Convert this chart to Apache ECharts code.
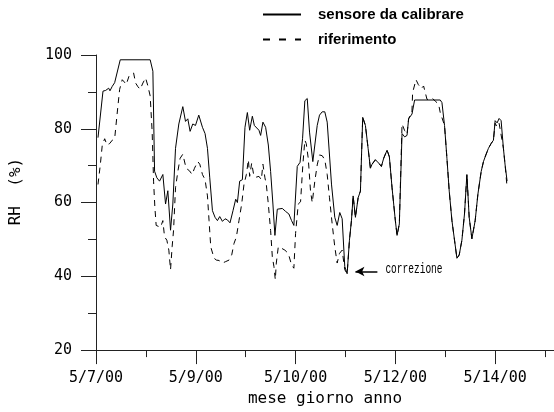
<!DOCTYPE html>
<html>
<head>
<meta charset="utf-8">
<script src="https://cdn.jsdelivr.net/npm/echarts@6/dist/echarts.min.js"></script>
<style>
html,body{margin:0;padding:0;background:#fff;}
#chart{width:554px;height:412px;}
</style>
</head>
<body>
<div id="chart"></div>
<script>
// x positions are in axis units (one unit per labelled tick)
var tickLabels = ['5/7/00', '5/9/00', '5/10/00', '5/12/00', '5/14/00'];
var seriesNames = ['sensore da calibrare', 'riferimento'];

var tSensore = [0.02,0.07,0.097,0.127,0.14,0.163,0.187,0.243,0.543,0.57,0.587,0.61,0.637,0.67,0.697,0.72,0.747,0.77,0.797,0.83,0.87,0.897,0.92,0.943,0.97,0.997,1.03,1.067,1.093,1.117,1.14,1.167,1.193,1.217,1.24,1.267,1.293,1.317,1.343,1.373,1.4,1.417,1.44,1.467,1.493,1.517,1.54,1.567,1.587,1.607,1.633,1.65,1.673,1.7,1.727,1.75,1.773,1.793,1.817,1.833,1.867,1.9,1.933,1.96,1.983,2.0,2.017,2.045,2.07,2.093,2.117,2.14,2.173,2.193,2.217,2.24,2.267,2.293,2.317,2.333,2.36,2.393,2.417,2.443,2.467,2.493,2.517,2.54,2.56,2.577,2.6,2.627,2.65,2.673,2.7,2.727,2.75,2.767,2.8,2.833,2.86,2.883,2.917,2.94,2.967,3.0,3.017,3.04,3.067,3.093,3.117,3.133,3.15,3.167,3.193,3.45,3.467,3.493,3.517,3.54,3.567,3.593,3.617,3.64,3.667,3.693,3.717,3.74,3.767,3.8,3.827,3.86,3.883,3.907,3.933,3.96,3.983,4.0,4.02,4.04,4.06,4.083,4.1,4.12];
var sensore = [77.6,90.2,90.4,91,90.3,91.5,92.5,98.7,98.7,95.6,68.5,66.7,65.8,67.6,59.6,63.2,52.5,59.6,74.7,81.3,86,82,82.7,79.3,81.3,80.9,83.7,80.4,78.7,74.7,66.7,57.8,56,55.1,56.2,54.9,55.6,55.3,54.5,57.8,60.9,60,65.8,66.2,80.4,84.4,79.6,83.4,80.9,80.7,79.6,78.2,81.8,80.4,75.6,68.4,59.6,51.1,58.2,57.8,58.4,57.6,56.9,55.1,53.8,54.2,69.8,70.9,77.3,87.6,88.2,79.1,71.1,75.6,80.9,83.7,84.6,84.6,81.8,75.6,65,56,53.8,57.3,55.6,42.7,40.7,49.8,55.1,61.8,56,61.3,63.1,83.1,80.9,74.7,69.3,70.4,71.6,70.7,69.8,72,74.2,72.4,64,55.1,51.1,54.2,78.7,77.8,78.2,82.7,83,84,87.8,87.8,87.1,80.9,72,63.1,55.1,49.8,44.9,45.8,49.8,56.9,67.6,56,50.2,55.1,62.2,68.4,71.1,72.9,74.7,76,76.9,82.2,81.6,82.8,82.2,74.7,70.2,65.8];

var tRiferimento = [0.02,0.043,0.063,0.087,0.11,0.137,0.163,0.187,0.21,0.237,0.263,0.283,0.303,0.33,0.353,0.377,0.397,0.42,0.443,0.47,0.497,0.52,0.543,0.563,0.577,0.59,0.603,0.62,0.647,0.67,0.687,0.71,0.73,0.747,0.763,0.777,0.797,0.82,0.843,0.87,0.903,0.937,0.963,0.987,1.02,1.04,1.067,1.093,1.117,1.133,1.15,1.183,1.207,1.233,1.267,1.3,1.333,1.36,1.383,1.407,1.433,1.46,1.483,1.507,1.527,1.54,1.56,1.583,1.607,1.633,1.657,1.673,1.693,1.707,1.727,1.75,1.767,1.783,1.797,1.807,1.827,1.86,1.893,1.927,1.96,1.983,2.0,2.027,2.05,2.073,2.093,2.107,2.127,2.15,2.167,2.193,2.217,2.24,2.267,2.293,2.317,2.34,2.367,2.393,2.417,2.44,2.467,2.493,2.517,2.54,2.56,2.577,2.6,2.627,2.65,2.673,2.7,2.727,2.75,2.767,2.8,2.833,2.86,2.883,2.917,2.94,2.967,3.0,3.017,3.04,3.067,3.093,3.117,3.133,3.167,3.173,3.207,3.23,3.26,3.283,3.317,3.34,3.373,3.4,3.433,3.45,3.493,3.517,3.54,3.567,3.593,3.617,3.64,3.667,3.693,3.717,3.74,3.767,3.8,3.827,3.86,3.883,3.907,3.933,3.96,3.983,4.0,4.02,4.04,4.06,4.083,4.1,4.12];
var riferimento = [64.9,70.2,75.6,77.3,75.6,76,76.9,77.3,83.6,90.7,93.3,92.7,92,94.2,94.9,95.1,92.4,91.4,90.7,92.4,93.8,91.6,88.9,79.1,65.8,58.7,53.8,53.5,53.3,55.1,50.7,49.8,47.1,41.8,48,52.4,64,68.4,72,73.1,69.3,68.6,67.6,69.3,71.1,70.4,67.6,66.2,61.8,55.1,48,44.9,44.4,44.3,43.6,44,44.4,45.8,48.9,50.7,55.1,59.6,64.9,67.6,71.6,67.1,70.7,67.1,66.9,67.1,66.2,70.4,66.7,64.9,59.6,52.4,45.3,42.7,39.1,43.6,48,47.6,47.1,46.2,43.1,42.2,51.6,59.6,60.2,70.2,76.9,76,72,63.1,60,65.8,70.2,72.9,72.7,71.6,67.6,61.3,54.2,48,43.6,46.2,47.1,41.8,40.7,49.8,55.1,61.8,56,61.3,63.1,83.1,80.9,74.7,69.3,70.4,71.6,70.7,69.8,72,74.2,72.4,64,55.1,51.1,54.2,81.3,79.5,78.5,82.7,85,89.8,93.3,92,90.9,91.6,88,87.8,88.2,87.5,86.7,84.4,80.9,72,63.1,55.1,49.8,44.9,45.8,49.8,56.9,67.6,56,50.2,55.1,62.2,68.4,71.1,72.9,74.7,76,76.9,81.5,80.5,81.5,82,74.7,70.2,64];

// annotation: arrow pointing at the corrected minimum
var annotationText = 'correzione';
var arrowFrom = [2.82, 41.3];
var arrowTo = [2.6, 41.3];

function zip(t, v) { return t.map(function (x, i) { return [x, v[i]]; }); }

var chart = echarts.init(document.getElementById('chart'), null, {renderer: 'canvas'});
var axisColor = '#222';
var tickFont = 'DejaVu Sans Mono';

var option = {
  animation: false,
  backgroundColor: '#fff',
  grid: {left: 95, right: 0, top: 55, bottom: 58, containLabel: false},
  legend: {
    orient: 'vertical',
    left: 262,
    top: 7,
    padding: 0,
    itemWidth: 38,
    itemHeight: 14,
    itemGap: 10,
    itemStyle: {opacity: 0},
    data: [
      {name: seriesNames[0]},
      {name: seriesNames[1], lineStyle: {type: [7, 9]}}
    ],
    textStyle: {
      fontFamily: 'Liberation Sans',
      fontWeight: 'bold',
      fontSize: 15,
      color: '#000',
      padding: [0, 0, 0, 12]
    }
  },
  xAxis: {
    type: 'value',
    min: 0,
    max: 4.59,
    interval: 1,
    name: 'mese giorno anno',
    nameLocation: 'middle',
    nameGap: 36,
    nameTextStyle: {fontFamily: tickFont, fontSize: 16, color: '#000'},
    axisLine: {show: true, lineStyle: {color: axisColor, width: 1}},
    axisTick: {show: true, length: 14, inside: false, lineStyle: {color: axisColor}},
    minorTick: {show: true, splitNumber: 2, length: 7, lineStyle: {color: axisColor}},
    splitLine: {show: false},
    minorSplitLine: {show: false},
    axisLabel: {
      margin: 21,
      fontFamily: tickFont,
      fontSize: 15,
      color: '#000',
      showMaxLabel: false,
      formatter: function (v) {
        var i = Math.round(v);
        return (Math.abs(v - i) < 1e-6 && tickLabels[i] !== undefined) ? tickLabels[i] : '';
      }
    }
  },
  yAxis: {
    type: 'value',
    min: 20,
    max: 100,
    interval: 20,
    name: 'RH  (%)',
    nameLocation: 'middle',
    nameGap: 72,
    nameRotate: 90,
    nameTextStyle: {fontFamily: tickFont, fontSize: 16, color: '#000', padding: [0, 0, 0, 22]},
    axisLine: {show: true, lineStyle: {color: axisColor, width: 1}},
    axisTick: {show: true, length: 15, inside: false, lineStyle: {color: axisColor}},
    minorTick: {show: true, splitNumber: 2, length: 8, lineStyle: {color: axisColor}},
    splitLine: {show: false},
    minorSplitLine: {show: false},
    axisLabel: {margin: 24, fontFamily: tickFont, fontSize: 15, color: '#000'}
  },
  series: [
    {
      name: seriesNames[0],
      type: 'line',
      data: zip(tSensore, sensore),
      symbol: 'none',
      lineStyle: {color: '#000', width: 1, type: 'solid'},
      itemStyle: {color: '#000'},
      z: 3
    },
    {
      name: seriesNames[1],
      type: 'line',
      data: zip(tRiferimento, riferimento),
      symbol: 'none',
      lineStyle: {color: '#000', width: 1, type: [6, 5]},
      itemStyle: {color: '#000'},
      z: 2,
      markLine: {
        silent: true,
        symbol: ['arrow', 'none'],
        symbolSize: [7, 9],
        lineStyle: {color: '#000', width: 1.5, type: 'solid'},
        label: {show: false},
        data: [[{coord: arrowTo}, {coord: arrowFrom}]]
      }
    }
  ]
};
chart.setOption(option);

var p = chart.convertToPixel({gridIndex: 0}, arrowFrom);
chart.setOption({
  graphic: [{
    type: 'text',
    x: p[0] + 8,
    y: p[1] - 2,
    scaleX: 0.68,
    style: {
      text: annotationText,
      fontFamily: 'Liberation Mono',
      fontSize: 14,
      fill: '#000',
      verticalAlign: 'middle',
      align: 'left'
    }
  }]
});
</script>
</body>
</html>
